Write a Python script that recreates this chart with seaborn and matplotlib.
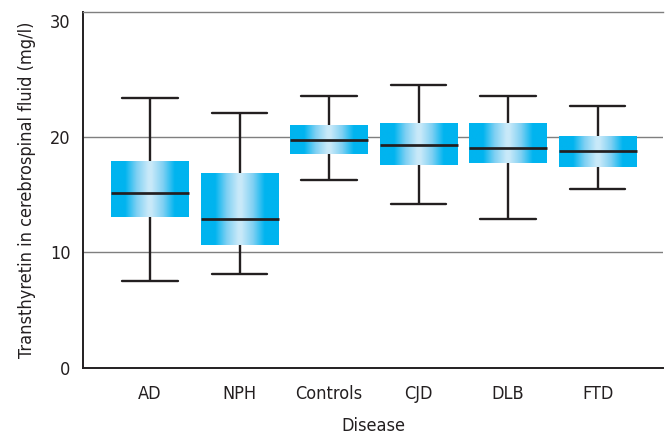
import numpy as np
import pandas as pd
import seaborn as sns
import matplotlib.pyplot as plt
from matplotlib.colors import LinearSegmentedColormap

# Valores (mg/l)
doencas = ['AD', 'NPH', 'Controls', 'CJD', 'DLB', 'FTD']
minimo = [7.5, 8.15, 16.3, 14.2, 12.9, 15.5]
q1 = [13.1, 10.6, 18.5, 17.6, 17.7, 17.4]
mediana = [15.1, 12.9, 19.7, 19.3, 19.0, 18.8]
q3 = [17.9, 16.9, 21.0, 21.2, 21.2, 20.1]
maximo = [23.4, 22.1, 23.5, 24.5, 23.5, 22.7]
yticks = [0, 10, 20, 30]
grelha = [10, 20]

# Cinco pontos por grupo -> quartis exactos, bigodes no min/max
linhas = []
for i, d in enumerate(doencas):
    for v in (minimo[i], q1[i], mediana[i], q3[i], maximo[i]):
        linhas.append({'Disease': d, 'TTR': v})
df = pd.DataFrame(linhas)

sns.set_style('white')
plt.rcParams['font.family'] = ['DejaVu Sans']
plt.rcParams['font.stretch'] = 'condensed'

fig = plt.figure(figsize=(6.68, 4.38), dpi=100)
ax = fig.add_axes([0.1243, 0.1598, 0.8682, 0.8128])

cor_linha = '#231F20'
lw = 1.7
sns.boxplot(data=df, x='Disease', y='TTR', order=doencas, whis=(0, 100),
            width=0.87, color='#00B4EF', linecolor=cor_linha, linewidth=lw,
            capwidths=0.62, ax=ax,
            boxprops=dict(edgecolor='none'),
            medianprops=dict(color=cor_linha, linewidth=lw * 1.15),
            whiskerprops=dict(color=cor_linha, linewidth=lw),
            capprops=dict(color=cor_linha, linewidth=lw))

# Gradiente horizontal nas caixas
cmap = LinearSegmentedColormap.from_list('grad', ['#C8E9F9', '#7FD0F3', '#00B4EF'])
t = np.abs(np.linspace(-1, 1, 256))
grad = np.clip((t - 0.04) / 0.6, 0, 1)[np.newaxis, :]
for p in list(ax.patches):
    ext = p.get_path().get_extents()
    im = ax.imshow(grad, cmap=cmap, vmin=0, vmax=1, aspect='auto',
                   extent=[ext.x0, ext.x1, ext.y0, ext.y1], zorder=p.get_zorder(),
                   interpolation='bilinear')
    im.set_clip_path(p)
    p.set_facecolor('none')
    p.set_edgecolor('none')

ax.set_xlim(-0.749, 5.73)
ax.set_ylim(0, 30.8)
ax.set_yticks(yticks)
ax.set_yticklabels([str(v) for v in yticks])
for g in grelha:
    ax.axhline(g, color='#7F7F7F', linewidth=1.0, zorder=0.5)
ax.tick_params(axis='x', length=0, pad=12, labelsize=13, colors='#231F20')
ax.tick_params(axis='y', length=0, pad=9, labelsize=13, colors='#231F20')

for s in ['left', 'bottom']:
    ax.spines[s].set_color('#231F20')
    ax.spines[s].set_linewidth(1.4)
ax.spines['right'].set_visible(False)
ax.spines['top'].set_color('#7F7F7F')
ax.spines['top'].set_linewidth(1.0)

ax.set_xlabel('Disease', fontsize=13, labelpad=10, color='#231F20')
ax.set_ylabel('Transthyretin in cerebrospinal fluid (mg/l)', fontsize=13,
              labelpad=10, color='#231F20')

fig.savefig('out.png', dpi=100)
